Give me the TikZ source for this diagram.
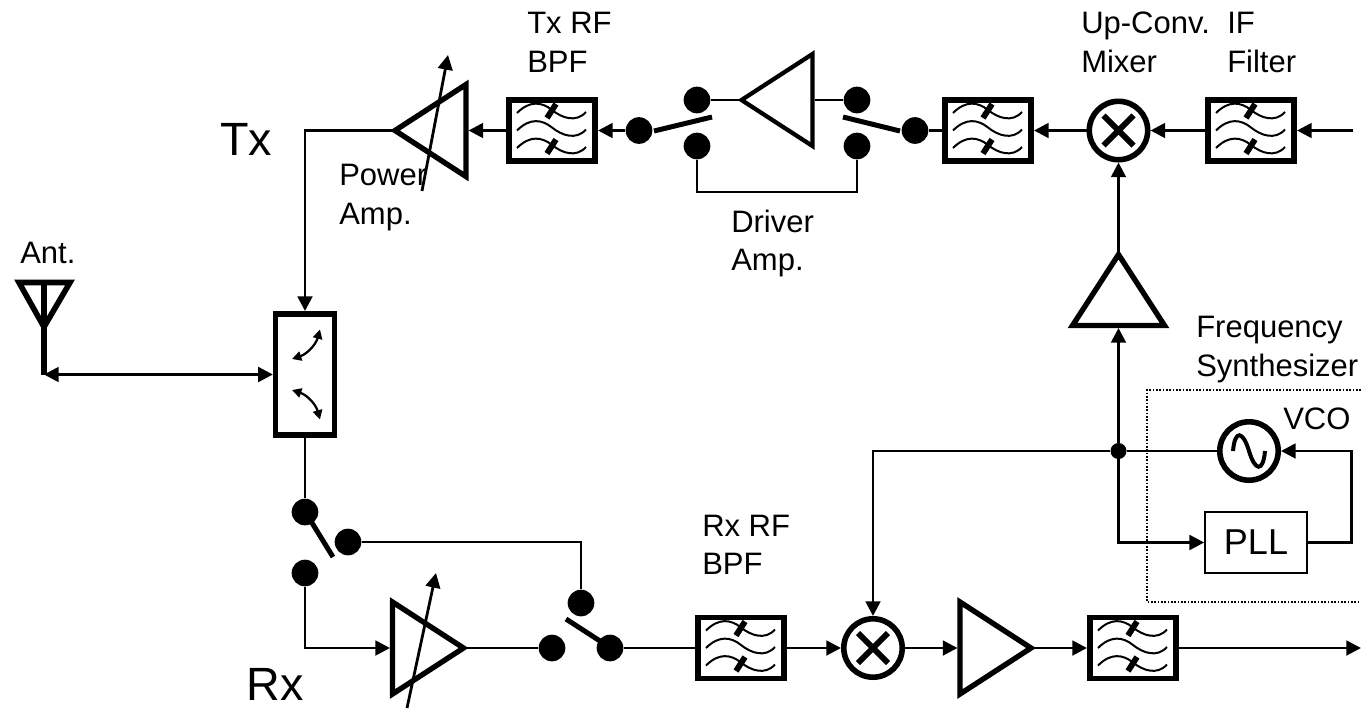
\documentclass[tikz,border=0pt]{standalone}
\usepackage{fontspec}
\setmainfont{Liberation Sans}
\usetikzlibrary{arrows.meta,calc}
\tikzset{
  >={Triangle[length=11pt,width=11pt]},
  wire/.style={line width=2.1pt},
  arr/.style={->,wire},
  thk/.style={line width=4.2pt},
  lab/.style={font=\fontsize{23.25}{29}\selectfont,align=left,anchor=north west,inner sep=0pt},
  biglab/.style={font=\fontsize{35}{40}\selectfont,inner sep=0pt},
  dot/.style={circle,fill=black,inner sep=0pt,minimum size=20pt},
  joint/.style={circle,fill=black,inner sep=0pt,minimum size=12pt},
  blade/.style={line width=3.75pt},
  ringnode/.style={circle,draw,thk,fill=white,inner sep=0pt,minimum size=43.8pt},
  smallarr/.style={line width=1.7pt,{Triangle[length=7pt,width=7pt]}-{Triangle[length=7pt,width=7pt]}},
  pics/bpf/.style={code={
    \node[draw,thk,fill=white,inner sep=0pt,minimum width=64.8pt,minimum height=46pt] (-box) at (0,0) {};
    \foreach \dy in {-17.5,0,17.5}
      \draw[line width=1.5pt] (-35,\dy) .. controls (-22,\dy-13) and (-10,\dy-11) .. (0,\dy-3)
        .. controls (10,\dy+5) and (24,\dy+10) .. (34,\dy-1);
    \draw[line width=4.4pt] (-5,-12.5) -- (4,-26.5);
    \draw[line width=4.4pt] (-5,23) -- (4,9);
  }},
  pics/amp/.style={code={
    \draw[line width=#1] (35.5,0) -- (-35.5,46) -- (-35.5,-46) -- cycle;
    \coordinate (-tip) at (35.5,0);
    \coordinate (-base) at (-38,0);
  }},
  pics/amp/.default=4pt,
  pics/mixer/.style={code={
    \node[ringnode] (-ring) at (0,0) {};
    \draw[line width=4.4pt] (-15,-15) -- (15,15) (-15,15) -- (15,-15);
  }},
}
\begin{document}
\begin{tikzpicture}[x=0.75pt,y=-0.75pt]
\useasboundingbox (0,0) rectangle (1361,708);
% frequency synthesizer frame
\draw[line width=1.1pt,dash pattern=on 1.2pt off 1.3pt] (1361,390) -- (1147,390) -- (1147,602) -- (1361,602);
% transmit chain
\pic (fif) at (1251,130.5) {bpf};
\pic (mixup) at (1118.5,130.5) {mixer};
\pic (ftx2) at (988,130.5) {bpf};
\pic (ftx) at (552,130.5) {bpf};
\pic[rotate=180] (pa) at (430.5,130.5) {amp};
\pic[rotate=180] (da) at (777,100) {amp=3.2pt};
\pic[rotate=90] (buf) at (1118.5,290) {amp};
\node[dot] (dl) at (639,130.5) {};
\node[dot] (dla) at (697,100) {};
\node[dot] (dlb) at (697,146) {};
\node[dot] (dr) at (915,130.5) {};
\node[dot] (dra) at (857,100) {};
\node[dot] (drb) at (857,146) {};
\coordinate (txin) at (1353,130.5);
\draw[arr] (txin) -- (fif-box.east);
\draw[arr] (fif-box.west) -- (mixup-ring.east);
\draw[arr] (mixup-ring.west) -- (ftx2-box.east);
\draw[wire] (ftx2-box.west) -- (dr);
\draw[arr] (dl) -- (ftx-box.east);
\draw[arr] (ftx-box.west) -- (pa-base);
\draw[wire] (da-tip) -- (dla);
\draw[wire] (da-base) -- (dra);
\draw[wire] (dlb) -- ++(0,46) -| (drb);
\coordinate (bl1) at (654,131); \coordinate (bl2) at (712,117);
\coordinate (br1) at (900,131); \coordinate (br2) at (843,117);
\draw[blade] (bl1) -- (bl2);
\draw[blade] (br1) -- (br2);
\coordinate (pav1) at (422,191); \coordinate (pav2) at (448,55);
\draw[arr] (pav1) -- (pav2);
\draw[arr] (buf-tip) -- (mixup-ring.south);
% antenna and duplexer
\node[draw,thk,fill=white,inner sep=0pt,minimum width=44pt,minimum height=91pt] (circ) at (305,374.5) {};
\coordinate (ant) at (44,374.5);
\draw[thk] (44,327) -- (19,282.5) -- (70,282.5) -- cycle;
\draw[thk] (44,282.5) -- (ant);
\draw[arr,<->] (ant) -- (circ.west);
\draw[arr] (pa-tip) -| (circ.north);
\draw[smallarr] ($(circ)+(-13,-15.5)$) to[bend right=28] ($(circ)+(15,-45)$);
\draw[smallarr] ($(circ)+(-13,15.5)$) to[bend left=28] ($(circ)+(15,45)$);
% receive chain
\node[dot] (sa) at (305,512) {};
\node[dot] (sb) at (348,542) {};
\node[dot] (sc) at (305,573) {};
\node[dot] (sd) at (581,603) {};
\node[dot] (se) at (552,648) {};
\node[dot] (sf) at (610,648) {};
\coordinate (bs1) at (309,518); \coordinate (bs2) at (333,557);
\coordinate (bt1) at (600,641); \coordinate (bt2) at (566,619);
\draw[blade] (bs1) -- (bs2);
\draw[blade] (bt1) -- (bt2);
\pic (lna) at (428,648) {amp};
\pic (frx) at (741,648) {bpf};
\pic (mixdn) at (873,648) {mixer};
\pic (ifa) at (995.5,648) {amp};
\pic (frx2) at (1133,648) {bpf};
\coordinate (rxout) at (1361,648);
\draw[wire] (circ.south) -- (sa);
\draw[wire] (sb) -| (sd);
\draw[arr] (sc) |- (lna-base);
\draw[wire] (lna-tip) -- (se);
\draw[wire] (sf) -- (frx-box.west);
\draw[arr] (frx-box.east) -- (mixdn-ring.west);
\draw[arr] (mixdn-ring.east) -- (ifa-base);
\draw[arr] (ifa-tip) -- (frx2-box.west);
\draw[arr] (frx2-box.east) -- (rxout);
\coordinate (lnav1) at (407,708); \coordinate (lnav2) at (436,573);
\draw[arr] (lnav1) -- (lnav2);
% synthesizer
\node[ringnode] (vco) at (1249,451) {};
\draw[line width=3pt,shift={(vco)}] (-16,0) .. controls (-14,-22) and (-6,-20) .. (0,0)
  .. controls (6,20) and (14,22) .. (16,0);
\node[draw,line width=1.3pt,inner sep=0pt,minimum width=76.5pt,minimum height=45.75pt,font=\fontsize{27}{32}\selectfont] (pll) at (1256,542.5) {PLL};
\node[joint] (jn) at (1118.5,451) {};
\draw[wire] (vco) -- (jn);
\draw[arr] (jn) -- (buf-base);
\draw[arr] (jn) -| (873,451) -- (mixdn-ring.north);
\draw[arr] (jn) |- (pll.west);
\draw[arr] (pll.east) -- ++(44,0) |- (vco.east);
% labels
\node[lab] (ltxrf) at (527,12) {Tx RF\\BPF};
\node[lab] (lup) at (1081,12) {Up-Conv.\\Mixer};
\node[lab] (lif) at (1227,12) {IF\\Filter};
\node[lab] (lpa) at (339,164) {Power\\Amp.};
\node[lab] (lda) at (731,209.5) {Driver\\Amp.};
\node[lab] (lfs) at (1196,316) {Frequency\\Synthesizer};
\node[lab] (lrx) at (702,514.5) {Rx RF\\BPF};
\node[lab] (lant) at (20,241.5) {Ant.};
\node[lab] (lvco) at (1283,408) {VCO};
\node[biglab] (ltx) at (246,139) {Tx};
\node[biglab] (lrxb) at (275,684) {Rx};
\end{tikzpicture}
\end{document}
